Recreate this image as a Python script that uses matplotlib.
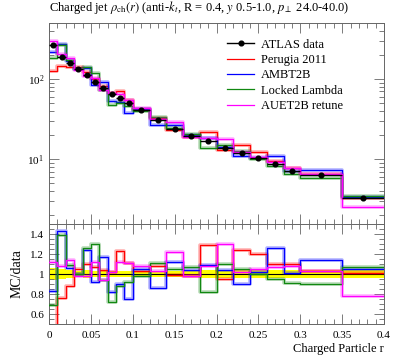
import numpy as np
import matplotlib
matplotlib.use("Agg")
import matplotlib.pyplot as plt
from matplotlib.ticker import MultipleLocator, LogLocator, NullFormatter, FixedLocator
from matplotlib.lines import Line2D

plt.rcParams['font.family'] = ['Liberation Serif', 'DejaVu Serif']
plt.rcParams['mathtext.fontset'] = 'stix'

# ---- data ----
bin_edges = [0, 0.01, 0.02, 0.03, 0.04, 0.05, 0.06, 0.07, 0.08, 0.09, 0.10,
             0.12, 0.14, 0.16, 0.18, 0.20, 0.22, 0.24, 0.26, 0.28, 0.30, 0.35, 0.40]
atlas_data = [264, 190, 160, 133, 112, 92.5, 77.8, 64.9, 57.9, 49.7, 40.6, 30.7,
              23.5, 19.4, 16.9, 13.7, 12.0, 10.2, 8.66, 7.08, 6.37, 3.25]
atlas_relerr = [0.06, 0.05, 0.04, 0.03, 0.04, 0.03, 0.03, 0.03, 0.03, 0.03, 0.03,
                0.03, 0.03, 0.03, 0.04, 0.04, 0.04, 0.04, 0.04, 0.04, 0.04, 0.04]
ratio_perugia = [0.47, 0.76, 0.876, 1.055, 1.10, 1.07, 1.04, 1.02, 1.23, 1.107, 1.03,
                 1.076, 0.986, 0.98, 1.29, 0.95, 1.24, 1.205, 1.096, 1.096, 1.027, 1.014]
ratio_ambt2b = [0.834, 1.43, 1.06, 1.0, 1.24, 0.92, 1.17, 0.82, 0.90, 0.75, 1.05,
                0.865, 1.124, 1.045, 1.086, 1.04, 0.90, 1.024, 1.256, 1.007, 1.137, 1.048]
ratio_locked = [0.69, 1.39, 1.09, 1.0, 1.26, 1.30, 0.945, 0.72, 0.876, 0.92, 0.98,
                1.107, 1.055, 1.066, 0.825, 1.096, 1.055, 0.997, 0.955, 0.915, 0.904, 1.075]
ratio_auet2b = [1.117, 1.083, 1.14, 0.98, 0.98, 1.117, 0.945, 1.02, 1.117, 1.107, 1.076,
                1.03, 1.22, 0.98, 1.076, 1.30, 1.017, 1.055, 1.075, 1.082, 1.027, 0.785]
x_ticks = [0, 0.05, 0.1, 0.15, 0.2, 0.25, 0.3, 0.35, 0.4]
x_ticklabels = ['0', '0.05', '0.1', '0.15', '0.2', '0.25', '0.3', '0.35', '0.4']
r_ticks = [0.6, 0.8, 1.0, 1.2, 1.4]
r_ticklabels = ['0.6', '0.8', '1', '1.2', '1.4']

series = [
    ("Perugia 2011", ratio_perugia, "#ff0000"),
    ("AMBT2B", ratio_ambt2b, "#0000ff"),
    ("Locked Lambda", ratio_locked, "#118811"),
    ("AUET2B retune", ratio_auet2b, "#ff00ff"),
]

edges = np.array(bin_edges)
data = np.array(atlas_data)
err = data * np.array(atlas_relerr)
centers = 0.5 * (edges[:-1] + edges[1:])
halfw = 0.5 * np.diff(edges)

fig = plt.figure(figsize=(3.97, 3.58), dpi=100)
L, R = 49 / 397, 384 / 397
ax = fig.add_axes([L, 1 - 224 / 358, R - L, (224 - 23) / 358])
axr = fig.add_axes([L, 1 - 324 / 358, R - L, 100 / 358])

frame_col = '#666666'

def step(a, vals, **kw):
    v = np.append(vals, vals[-1])
    return a.step(edges, v, where='post', **kw)

# main panel
handles = [Line2D([], [], color='black', marker='o', ms=3.4, lw=1.0)]
labels = ['ATLAS data']
for name, ratio, col in series:
    mc = np.array(ratio) * data
    step(ax, mc, color=col, lw=2.6, alpha=0.3)
    step(ax, mc, color=col, lw=0.9)
    handles.append(Line2D([], [], color=col, lw=0.9))
    labels.append(name)
ax.errorbar(centers, data, xerr=halfw, yerr=err, fmt='o', color='black',
            ms=3.4, lw=1.0, capsize=0, zorder=5)

ax.set_yscale('log')
ax.set_xlim(0, 0.4)
ax.set_ylim(1.55, 500)
ax.xaxis.set_major_locator(FixedLocator(x_ticks))
ax.xaxis.set_minor_locator(MultipleLocator(0.01))
ax.set_xticklabels([])
ax.yaxis.set_major_locator(LogLocator(base=10, numticks=10))
ax.yaxis.set_minor_locator(LogLocator(base=10, subs=np.arange(2, 10), numticks=10))
ax.yaxis.set_minor_formatter(NullFormatter())

ax.legend(handles, labels,
          loc='upper left', bbox_to_anchor=((227 - 49) / 335 - 0.006, 0.935),
          frameon=False, fontsize=9, handlelength=2.1, handletextpad=0.6,
          labelspacing=0.27, borderaxespad=0, borderpad=0.2)

ax.text(0.0, 1.035, r'Charged jet $\rho_\mathrm{ch}(r)$ (anti-$k_t$, R = 0.4, $y$ 0.5-1.0, $p_\perp$ 24.0-40.0)',
        transform=ax.transAxes, fontsize=9, ha='left', va='bottom')

# ratio panel
band_lo = np.append(1 - np.array(atlas_relerr), 1 - atlas_relerr[-1])
band_hi = np.append(1 + np.array(atlas_relerr), 1 + atlas_relerr[-1])
axr.fill_between(edges, band_lo, band_hi, step='post', color='#ffff00', lw=0, zorder=1)
axr.axhline(1.0, color='black', lw=0.8, zorder=2)
for name, ratio, col in series:
    step(axr, np.array(ratio), color=col, lw=2.6, alpha=0.3, zorder=3)
    step(axr, np.array(ratio), color=col, lw=0.9, zorder=4)
axr.set_xlim(0, 0.4)
axr.set_ylim(0.5, 1.5)
axr.xaxis.set_major_locator(FixedLocator(x_ticks))
axr.xaxis.set_minor_locator(MultipleLocator(0.01))
axr.set_xticklabels(x_ticklabels)
axr.yaxis.set_major_locator(FixedLocator(r_ticks))
axr.yaxis.set_minor_locator(MultipleLocator(0.05))
axr.set_yticklabels(r_ticklabels)
axr.set_ylabel('MC/data', fontsize=10, labelpad=5)
axr.set_xlabel('Charged Particle r', fontsize=9, loc='right', labelpad=2)

for a in (ax, axr):
    a.tick_params(which='both', direction='in', top=True, right=True,
                  color=frame_col, labelsize=8)
    a.tick_params(which='major', length=7, width=0.6)
    a.tick_params(which='minor', length=3.6, width=0.6)
    for s in a.spines.values():
        s.set_color(frame_col)
        s.set_linewidth(0.7)
axr.tick_params(axis='x', pad=5)

fig.savefig('out.png', dpi=100)
